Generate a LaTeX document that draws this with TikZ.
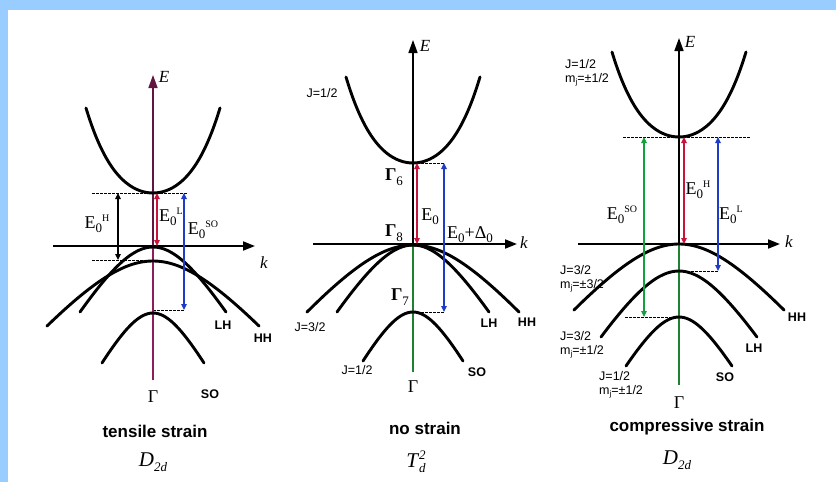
\documentclass[tikz,border=0pt]{standalone}
\usepackage{fontspec}
\setmainfont{Liberation Serif}
\setsansfont{Liberation Sans}
\usetikzlibrary{arrows.meta}

\definecolor{framebl}{RGB}{153,204,255}
\definecolor{gapred}{RGB}{200,20,60}
\definecolor{gapblue}{RGB}{30,60,200}
\definecolor{gapgreen}{RGB}{20,160,60}
\definecolor{axmag}{RGB}{140,30,90}
\definecolor{axgreen}{RGB}{30,130,50}

% font size helper
\newcommand{\setfs}[1]{\fontsize{#1}{#1}\selectfont}
% E_0 with an optional raised tag
\newcommand{\Egap}[1]{E\raisebox{-4pt}{\setfs{13}0}\raisebox{6.5pt}{\setfs{10}#1}}
% symmetry groups
\newcommand{\Dtwod}{\textit{D}\raisebox{-4.5pt}{\setfs{13}\textit{2d}}}
\newcommand{\Tdtwo}{\textit{T}\rlap{\raisebox{-5pt}{\setfs{13}\textit{d}}}\raisebox{8pt}{\setfs{13}\textit{2}}}
\newcommand{\Gsub}[1]{\textbf{Γ}\raisebox{-4.5pt}{\setfs{13}#1}}
\newcommand{\mj}{m\raisebox{-2pt}{\setfs{8}j}}

% conduction band: centre x, minimum y, half width, depth
\newcommand{\cband}[4]{\draw[band] plot[domain=-#3:#3,samples=41,smooth]
  ({#1+\x},{#2-#4*(0.7*\x*\x/(#3*#3)+0.3*(\x*\x/(#3*#3))^2)});}
% valence band: centre x, top y, half width, drop
\newcommand{\vband}[4]{\draw[band] plot[domain=-#3:#3,samples=41,smooth]
  ({#1+\x},{#2+#4*(sqrt(1+\x*\x/(0.49*#3*#3))-1)/0.7437});}

\begin{document}
\begin{tikzpicture}[x=1pt,y=-1pt,
  band/.style={line width=2.9pt, line cap=round},
  eaxis/.style={line width=1.6pt, -{Triangle[length=13pt,width=9pt]}},
  estem/.style={line width=1.6pt},
  kaxis/.style={line width=1.8pt, -{Triangle[length=12pt,width=9pt]}},
  gaparrow/.style={line width=1.1pt, {Triangle[length=6pt,width=5.5pt]}-{Triangle[length=6pt,width=5.5pt]}},
  level/.style={line width=0.9pt, dash pattern=on 2.5pt off 1.5pt},
  smalllab/.style={font=\sffamily\bfseries\setfs{12.5}, inner sep=0pt},
  jlab/.style={font=\sffamily\setfs{12.5}, inner sep=0pt, align=left},
  elab/.style={font=\setfs{18}, inner sep=0pt},
  axlab/.style={font=\itshape\setfs{17}, inner sep=0pt},
  caption/.style={font=\sffamily\bfseries\setfs{17}, inner sep=0pt},
  group/.style={font=\setfs{21}, inner sep=0pt}]

\useasboundingbox (0,0) rectangle (836,482);
\fill[white] (0,0) rectangle (836,482);
\fill[framebl] (0,0) rectangle (836,10);
\fill[framebl] (0,0) rectangle (8,482);

% ---------------- tensile strain ----------------
\coordinate (t-ebot) at (153,380);
\coordinate (t-emid) at (153,246);
\coordinate (t-etop) at (153,75);
\coordinate (t-kl) at (53,246);
\coordinate (t-kr) at (255,246);
\draw[level] (92,193) -- (187,193);
\draw[level] (92,260) -- (145,260);
\draw[level] (153,310) -- (184,310);
\draw[estem, axmag] (t-ebot) -- (t-emid);
\draw[eaxis, axmag!70!black] (t-emid) -- (t-etop);
\draw[kaxis] (t-kl) -- (t-kr);
\cband{153}{193}{67}{85}
\vband{153}{247}{73}{65}
\vband{153}{261}{106}{65}
\vband{153}{313}{51}{50}
\coordinate (t-h1) at (118,193); \coordinate (t-h2) at (118,260);
\coordinate (t-l1) at (157,193); \coordinate (t-l2) at (157,246);
\coordinate (t-s1) at (184,193); \coordinate (t-s2) at (184,310);
\draw[gaparrow] (t-h1) -- (t-h2);
\draw[gaparrow, gapred] (t-l1) -- (t-l2);
\draw[gaparrow, gapblue] (t-s1) -- (t-s2);
\node[axlab] (t-E) at (164,77) {E};
\node[axlab] (t-k) at (264,263) {k};
\node[elab] (t-eh) at (97,224) {\Egap{H}};
\node[elab] (t-el) at (171,217) {\Egap{L}};
\node[elab] (t-eso) at (203,230) {\Egap{SO}};
\node[smalllab] (t-lh) at (223,325) {LH};
\node[smalllab] (t-hh) at (263,338) {HH};
\node[smalllab] (t-so) at (210,394) {SO};
\node[elab] (t-gam) at (153,397) {Γ};
\node[caption] (t-cap) at (155,431) {tensile strain};
\node[group] (t-grp) at (153,462) {\Dtwod};

% ---------------- no strain ----------------
\coordinate (n-ebot) at (413,372);
\coordinate (n-emid) at (413,244);
\coordinate (n-etop) at (413,40);
\coordinate (n-kl) at (313,244);
\coordinate (n-kr) at (517,244);
\draw[level] (413,163) -- (444,163);
\draw[level] (413,312) -- (444,312);
\draw[estem, axgreen] (n-ebot) -- (n-emid);
\draw[eaxis] (n-emid) -- (n-etop);
\draw[kaxis] (n-kl) -- (n-kr);
\cband{413}{163}{67}{86}
\vband{413}{245}{76}{67}
\vband{413}{245}{106}{67}
\vband{413}{312}{50}{49}
\coordinate (n-a1) at (417,163); \coordinate (n-a2) at (417,244);
\coordinate (n-b1) at (444,163); \coordinate (n-b2) at (444,312);
\draw[gaparrow, gapred] (n-a1) -- (n-a2);
\draw[gaparrow, gapblue] (n-b1) -- (n-b2);
\node[axlab] (n-E) at (425,46) {E};
\node[axlab] (n-k) at (524,243) {k};
\node[jlab] (n-jc) at (322,93) {J=1/2};
\node[elab] (n-g6) at (394,177) {\Gsub{6}};
\node[elab] (n-e0) at (430,217) {\Egap{}};
\node[elab] (n-g8) at (394,233) {\Gsub{8}};
\node[elab] (n-ed) at (470,235) {E\raisebox{-4pt}{\setfs{13}0}+Δ\raisebox{-4pt}{\setfs{13}0}};
\node[elab] (n-g7) at (400,297) {\Gsub{7}};
\node[jlab] (n-j32) at (310,327) {J=3/2};
\node[smalllab] (n-lh) at (489,323) {LH};
\node[smalllab] (n-hh) at (527,322) {HH};
\node[jlab] (n-j12) at (357,370) {J=1/2};
\node[smalllab] (n-so) at (477,372) {SO};
\node[elab] (n-gam) at (413,387) {Γ};
\node[caption] (n-cap) at (425,428) {no strain};
\node[group] (n-grp) at (416,462) {\Tdtwo};

% ---------------- compressive strain ----------------
\coordinate (c-ebot) at (679,385);
\coordinate (c-emid) at (679,244);
\coordinate (c-etop) at (679,38);
\coordinate (c-kl) at (578,244);
\coordinate (c-kr) at (780,244);
\draw[level] (623,137) -- (750,137);
\draw[level] (679,271) -- (718,271);
\draw[level] (625,317) -- (679,317);
\draw[estem, axgreen] (c-ebot) -- (c-emid);
\draw[eaxis] (c-emid) -- (c-etop);
\draw[kaxis] (c-kl) -- (c-kr);
\cband{679}{137}{67}{85}
\vband{679}{244}{105}{66}
\vband{679}{271}{78}{66}
\vband{679}{317}{53}{49}
\coordinate (c-s1) at (644,137); \coordinate (c-s2) at (644,317);
\coordinate (c-h1) at (684,137); \coordinate (c-h2) at (684,244);
\coordinate (c-l1) at (718,137); \coordinate (c-l2) at (718,271);
\draw[gaparrow, gapgreen] (c-s1) -- (c-s2);
\draw[gaparrow, gapred] (c-h1) -- (c-h2);
\draw[gaparrow, gapblue] (c-l1) -- (c-l2);
\node[axlab] (c-E) at (690,42) {E};
\node[axlab] (c-k) at (789,242) {k};
\node[jlab, anchor=west] (c-jc) at (565,73) {J=1/2\\[1pt]\mj=±1/2};
\node[elab] (c-eso) at (622,215) {\Egap{SO}};
\node[elab] (c-eh) at (698,190) {\Egap{H}};
\node[elab] (c-el) at (731,215) {\Egap{L}};
\node[jlab, anchor=west] (c-jhh) at (560,279) {J=3/2\\[1pt]\mj=±3/2};
\node[jlab, anchor=west] (c-jlh) at (560,345) {J=3/2\\[1pt]\mj=±1/2};
\node[jlab, anchor=west] (c-jso) at (599,385) {J=1/2\\[1pt]\mj=±1/2};
\node[smalllab] (c-hh) at (797,317) {HH};
\node[smalllab] (c-lh) at (754,348) {LH};
\node[smalllab] (c-so) at (725,377) {SO};
\node[elab] (c-gam) at (679,403) {Γ};
\node[caption] (c-cap) at (687,427) {compressive strain};
\node[group] (c-grp) at (677,460) {\Dtwod};
\end{tikzpicture}
\end{document}
